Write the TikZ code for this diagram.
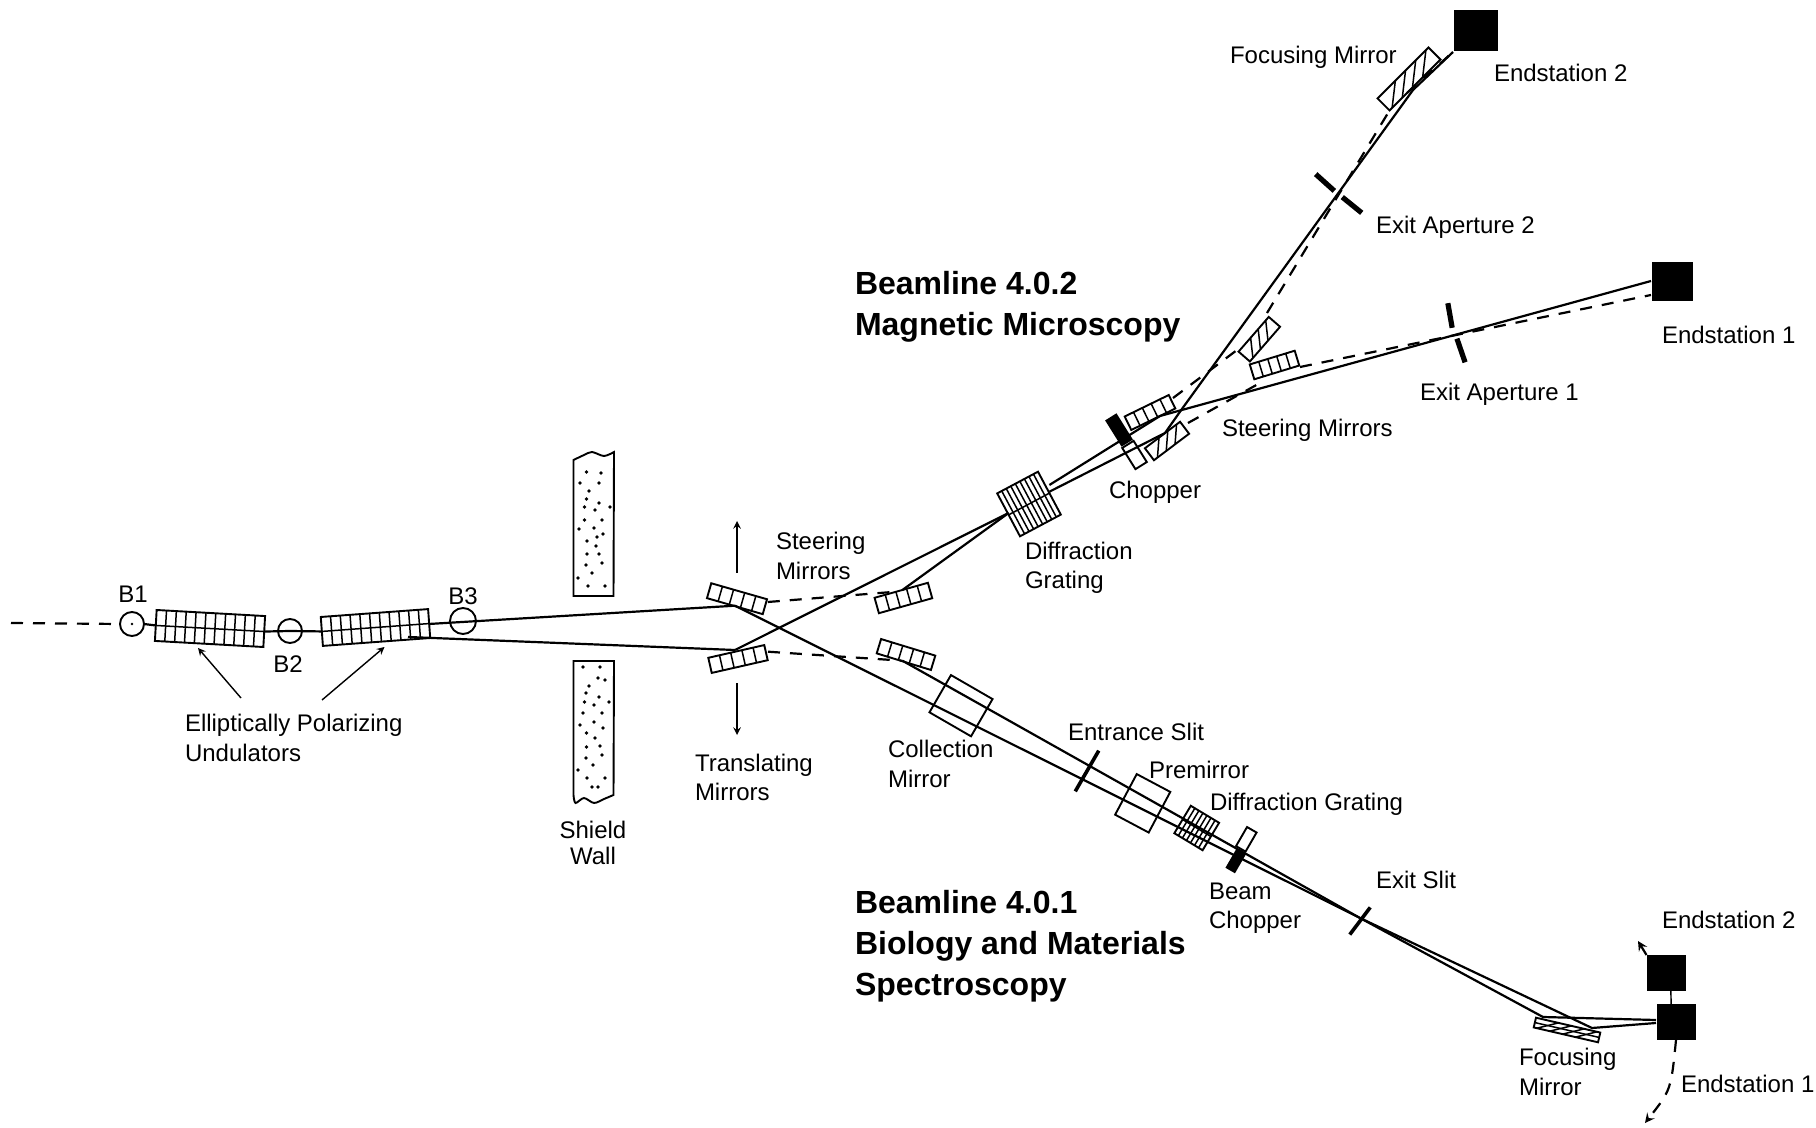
\documentclass[tikz,border=0pt]{standalone}
\usepackage{fontspec}
\setmainfont{Liberation Sans}
\usetikzlibrary{calc}

\begin{document}
\begin{tikzpicture}[
    x=0.5pt, y=-0.5pt,
    >=stealth,
    every node/.style={inner sep=0pt, outer sep=0pt},
    caption/.style={anchor=west, align=left, font=\fontsize{12}{14.6}\selectfont},
    heading/.style={anchor=west, align=left, font=\fontsize{16}{20.6}\selectfont\bfseries},
    part/.style={rectangle, draw=black, line width=0.95pt},
    tick/.style={line width=0.75pt},
    magnet/.style={circle, draw=black, line width=0.95pt, minimum size=12pt},
    station/.style={rectangle, fill=black},
    slit/.style={rectangle, fill=black, minimum width=12.5pt, minimum height=2.6pt},
    beam/.style={line width=1.1pt},
    dbeam/.style={line width=1.1pt, dash pattern=on 6pt off 5pt},
    pointer/.style={->, line width=0.7pt}
]
\useasboundingbox (0,0) rectangle (1816,1128);

% Mirrors and gratings: name/x/y/angle/width/height/cells/skew
\foreach \partname/\px/\py/\ang/\w/\h/\cells/\skew in {
    und1/210/628.5/-3.2/108.6/31/11/0, und2/375.5/627.5/4.2/107.6/29/11/0,
    ms1/737/598.7/-16/58/15.5/5/0, ms2/738/659/12.8/57.4/15.5/5/0,
    ms3/903.4/598/15.7/55.4/16/5/0, ms4/906/654.5/-17/56.7/15/5/0,
    grat1/1029/504/28/46.2/48.6/9/0, grat2/1196.7/828/-31/33/32/7/0,
    st1/1150/412.5/26/49/15/5/0, st2/1167/441/37/44/15/4/0.3,
    st3/1274.5/365/17/47/15.5/5/0, st4/1259.3/339.2/49/46/15/4/0.3,
    focus1/1409/79/45/72/17/5/0.3, focus2/1567/1030/-13/66/10/5/0.3} {
  \node[part, rotate=\ang, minimum width=\w*0.5pt, minimum height=\h*0.5pt] (\partname) at (\px,\py) {};
  \pgfmathtruncatemacro{\last}{\cells-1}
  \foreach \i in {1,...,\last} {
    \pgfmathsetmacro{\tlow}{\i/\cells-\skew/2}
    \pgfmathsetmacro{\thigh}{\i/\cells+\skew/2}
    \draw[tick] ($(\partname.south west)!\tlow!(\partname.south east)$) -- ($(\partname.north west)!\thigh!(\partname.north east)$);
  }
}
\foreach \partname in {und1,und2,grat1,grat2,focus2}
  \draw[tick] (\partname.west) -- (\partname.east);

% Plain boxes
\node[part, rotate=-30, minimum width=24pt, minimum height=21.5pt] (cmirror) at (961,705.7) {};
\node[part, rotate=-28, minimum width=19pt, minimum height=23pt] (premirror) at (1142.7,803.3) {};
\node[part, rotate=32, minimum width=6.7pt, minimum height=12.5pt] (chop2) at (1134.5,455) {};
\node[part, rotate=-30, minimum width=5.5pt, minimum height=11pt] (chop1) at (1246.3,839.3) {};
\node[station, rotate=32, minimum width=6.7pt, minimum height=15.5pt] (block2) at (1119,430) {};
\node[station, rotate=-30, minimum width=5.5pt, minimum height=11pt] (block1) at (1235.7,861) {};

% Bending magnets
\node[magnet] (b1) at (132,624) {};
\node[magnet] (b2) at (290,631) {};
\node[magnet, minimum size=13pt] (b3) at (463,621) {};
\fill (b1) circle[radius=0.7pt];

% Slits and apertures
\node[slit, rotate=60, minimum width=23.5pt, minimum height=1.8pt] (entrance) at (1087,771) {};
\node[slit, rotate=53, minimum width=17pt, minimum height=1.8pt] (exitslit) at (1360,921) {};
\node[slit, rotate=-80] (ap1a) at (1450,315.5) {};
\node[slit, rotate=-71] (ap1b) at (1461,350.5) {};
\node[slit, rotate=-42] (ap2a) at (1325,182.5) {};
\node[slit, rotate=-39] (ap2b) at (1352,205) {};

% Endstations
\node[station, minimum width=22pt, minimum height=20.5pt] (top2) at (1476,31) {};
\node[station, minimum width=20.5pt, minimum height=19.5pt] (top1) at (1672,282) {};
\node[station, minimum width=19.5pt, minimum height=18pt] (low2) at (1666,973) {};
\node[station, minimum width=19.5pt, minimum height=18pt] (low1) at (1676,1022) {};

% Beam points
\coordinate (start) at (11,623);
\coordinate (upstart) at (428.6,624);
\coordinate (lowstart) at (408,637);
\coordinate (hit1) at (735,605.7);
\coordinate (hit2) at (735,650);
\coordinate (hit3) at (902.4,590);
\coordinate (hit4) at (902.4,660.7);
\coordinate (out1) at (767.8,602);
\coordinate (in3) at (892,592);
\coordinate (out2) at (768,651.7);
\coordinate (in4) at (902.4,660.7);
\coordinate (grat1a) at (1008.6,513);
\coordinate (grat1b) at (1049.4,485);
\coordinate (grat1c) at (1049.4,491.7);
\coordinate (hitst1) at (1160,416);
\coordinate (hitst2) at (1165,433);
\coordinate (cross) at (1181.7,409.3);
\coordinate (turn) at (1413,90);
\coordinate (outst1) at (1173,398);
\coordinate (inst4) at (1237,350);
\coordinate (outst2) at (1188,423);
\coordinate (inst3) at (1260,383);
\coordinate (outst3) at (1300,367);
\coordinate (outst4) at (1267,313);
\coordinate (infocus) at (1388,113);
\coordinate (outfocus) at (1407,93);
\coordinate (top2in) at (1453,52);
\coordinate (top1a) at (1651,281);
\coordinate (top1b) at (1651,295);
\coordinate (slitpt) at (1360,918);
\coordinate (hitf1) at (1592,1028);
\coordinate (hitf2) at (1543,1017);
\coordinate (low1a) at (1656,1020);
\coordinate (low1b) at (1656,1023);
\coordinate (arrow2) at (1638,941);
\coordinate (arrow1) at (1645,1123);
\coordinate (wayb) at (1671,1090);
\coordinate (upa) at (737,573);
\coordinate (upb) at (737,521);
\coordinate (downa) at (737,683);
\coordinate (downb) at (737,735);
\coordinate (ptr1a) at (241,698);
\coordinate (ptr1b) at (198,648);
\coordinate (ptr2a) at (322,700);
\coordinate (ptr2b) at (384.5,647);

% Source to first mirrors
\draw[dbeam] (start) -- (b1.west);
\draw[beam] (b1.east) -- (und1.west);
\draw[beam] (und1.east) -- (b2.center) -- (und2.west);
\draw[beam] (upstart) -- (hit1);
\draw[beam] (lowstart) -- (hit2);
\draw[dbeam] (out1) -- (in3);
\draw[dbeam] (out2) -- (in4);

% Upper branch
\draw[beam] (hit2) -- (grat1a);
\draw[beam] (hit3) -- (grat1a);
\draw[beam] (grat1b) -- (hitst1) -- (top1a);
\draw[beam] (grat1c) -- (hitst2) -- (cross) -- (turn) -- (top2in);
\draw[dbeam] (outst1) -- (inst4);
\draw[dbeam] (outst2) -- (inst3);
\draw[dbeam] (outst3) -- (top1b);
\draw[dbeam] (outst4) -- (infocus);
\draw[dbeam] (outfocus) -- (top2in);

% Lower branch
\draw[beam] (hit1) -- (slitpt);
\draw[beam] (hit4) -- (slitpt);
\draw[beam] (slitpt) -- (hitf1) -- (low1b);
\draw[beam] (slitpt) -- (hitf2) -- (low1a);
\draw[line width=0.7pt] (low2.285) -- (low1.105);
\draw[->, line width=1.1pt] (low2.north west) -- (arrow2);
\draw[->, dbeam] (low1.south) .. controls (wayb) .. (arrow1);

% Pointers
\draw[pointer] (upa) -- (upb);
\draw[pointer] (downa) -- (downb);
\draw[pointer] (ptr1a) -- (ptr1b);
\draw[pointer] (ptr2a) -- (ptr2b);

% Shield wall
\draw[line width=0.95pt] (573.5,596) -- plot[smooth] coordinates {(573.5,460) (584,455) (592,452) (604,456) (614,452)} -- (613.5,596) -- cycle;
\draw[line width=0.95pt] (573.5,661) -- plot[smooth] coordinates {(573.5,795) (575.5,803) (584,798) (594,803) (604,799) (613.5,795)} -- (614,661) -- cycle;
\foreach \dx/\dy in {586.5/472, 601/473, 580/483, 599/483, 589/491, 586.5/499, 599/503, 584.5/507, 610/507, 595/510,
    584.5/520, 602/520, 579/529, 594/528, 603/534, 597/537, 587/541, 596/546, 587/554, 599/554, 602/563, 586/565,
    592/573, 578/578, 588/586, 605/586,
    600/667, 583/667, 598/678, 605/680, 589/686, 586/693, 599/697, 584.5/702, 609/702, 594/705, 583/713, 602/713,
    580/725, 594/722, 603/728, 586.5/733, 595/738, 586.5/747, 600/746, 602/755, 586/758, 593/765, 578/770, 587/778,
    605/778, 592/787, 598/787}
  \fill (\dx,\dy) circle[radius=0.9pt];

% Labels
\node[caption, anchor=center] (lb1) at (133,594) {B1};
\node[caption, anchor=center] (lb2) at (288,664) {B2};
\node[caption, anchor=center] (lb3) at (463,596) {B3};
\node[caption] (lund) at (185,738) {Elliptically Polarizing\\Undulators};
\node[caption, anchor=center, align=center] (lwall) at (593,843) {Shield\\[-2pt]Wall};
\node[caption] (lsteer) at (776,556) {Steering\\Mirrors};
\node[caption] (ltrans) at (695,777.5) {Translating\\Mirrors};
\node[caption] (lcoll) at (888,764) {Collection\\Mirror};
\node[caption] (lgrat) at (1025,568) {Diffraction\\Grating};
\node[caption] (lchop) at (1109,492) {Chopper};
\node[caption] (lsteer2) at (1222,430) {Steering Mirrors};
\node[caption] (lap1) at (1420,394) {Exit Aperture 1};
\node[caption] (lend1) at (1662,335) {Endstation 1};
\node[caption] (lap2) at (1376,227) {Exit Aperture 2};
\node[caption] (lfocus) at (1230,57) {Focusing Mirror};
\node[caption] (lend2) at (1494,73) {Endstation 2};
\node[caption] (lent) at (1068,732) {Entrance Slit};
\node[caption] (lpre) at (1149,770) {Premirror};
\node[caption] (lgrat2) at (1210,804) {Diffraction Grating};
\node[caption] (lbeam) at (1209,908) {Beam\\Chopper};
\node[caption] (lexit) at (1376,880) {Exit Slit};
\node[caption] (llow2) at (1662,919.5) {Endstation 2};
\node[caption] (llow1) at (1681,1084) {Endstation 1};
\node[caption] (lfocus2) at (1519,1072) {Focusing\\Mirror};
\node[heading] (title2) at (855,307) {Beamline 4.0.2\\Magnetic Microscopy};
\node[heading] (title1) at (855,946) {Beamline 4.0.1\\Biology and Materials\\Spectroscopy};

\end{tikzpicture}
\end{document}
